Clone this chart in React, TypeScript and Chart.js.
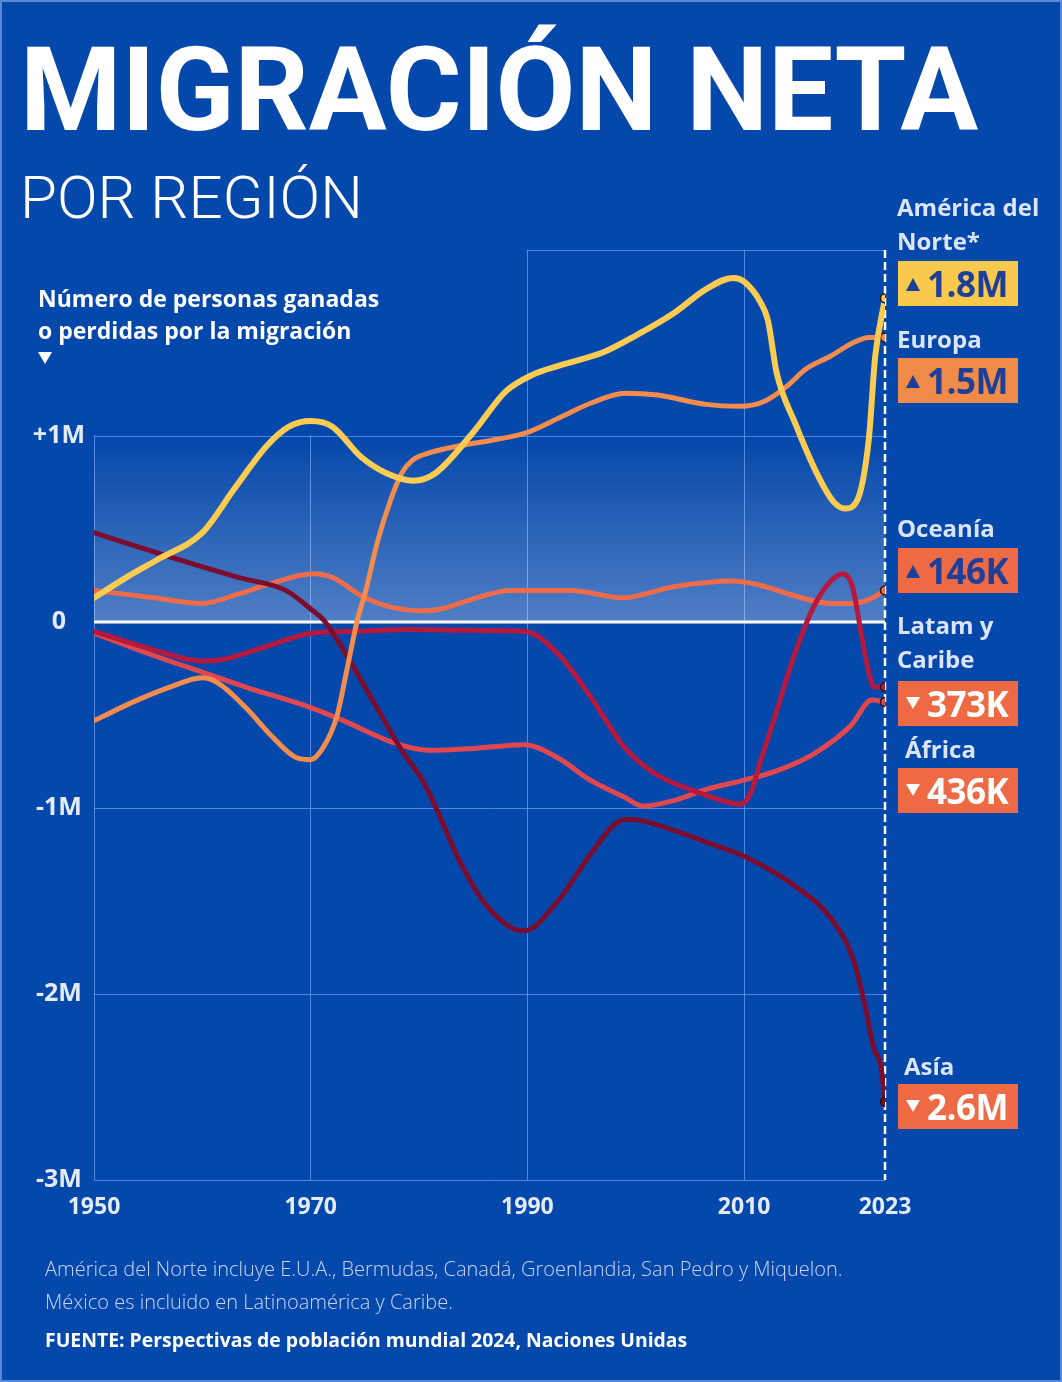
import React, { useEffect, useRef } from 'react';
import { Chart, registerables } from 'chart.js';

Chart.register(...registerables);

const BG = '#0548AB';

// ---- Data (net migration, millions of people) ----
const NA_YEARS = [1950, 1953, 1956, 1960, 1963, 1966, 1968, 1970, 1972, 1974.6, 1977, 1979.5, 1981.5, 1985, 1988, 1990.5, 1993, 1997, 2000, 2003.5, 2006.5, 2009, 2010, 2011.5, 2012.2, 2013, 2014.7, 2016.7, 2018.2, 2019.3, 2020.4, 2021.5, 2022.1, 2023];
const NA_VALUES = [0.13, 0.24, 0.34, 0.48, 0.72, 0.95, 1.05, 1.08, 1.05, 0.89, 0.8, 0.76, 0.8, 1.02, 1.24, 1.33, 1.38, 1.45, 1.54, 1.66, 1.79, 1.85, 1.83, 1.72, 1.62, 1.34, 1.07, 0.8, 0.65, 0.61, 0.65, 0.98, 1.43, 1.74];

const EU_YEARS = [1950, 1954, 1957, 1960, 1961.5, 1964, 1966.5, 1968.7, 1970, 1971.2, 1972.4, 1973.4, 1974.3, 1975, 1976.2, 1977.4, 1978.4, 1979.4, 1981, 1984, 1987, 1990, 1993, 1996, 1999, 2002, 2006.5, 2009.6, 2012, 2014, 2015.7, 2018, 2020, 2021.5, 2023];
const EU_VALUES = [-0.53, -0.42, -0.35, -0.3, -0.33, -0.46, -0.62, -0.73, -0.74, -0.67, -0.51, -0.24, 0.01, 0.15, 0.44, 0.66, 0.8, 0.87, 0.91, 0.95, 0.98, 1.02, 1.1, 1.18, 1.23, 1.22, 1.17, 1.16, 1.19, 1.27, 1.36, 1.43, 1.5, 1.53, 1.53];

const OC_YEARS = [1950, 1955.5, 1960, 1963.3, 1966.5, 1970.2, 1972, 1975, 1977.4, 1980.5, 1982, 1985.3, 1988.4, 1990.5, 1994, 1998.8, 2003.5, 2009, 2011.3, 2014.7, 2018, 2020, 2021.5, 2023];
const OC_VALUES = [0.17, 0.13, 0.1, 0.15, 0.21, 0.26, 0.24, 0.13, 0.08, 0.06, 0.07, 0.13, 0.17, 0.17, 0.17, 0.13, 0.19, 0.22, 0.2, 0.14, 0.1, 0.1, 0.12, 0.17];

const LA_YEARS = [1950, 1955.5, 1960, 1962, 1966.5, 1970, 1974.3, 1979, 1985.3, 1989.7, 1992.8, 1995.8, 1998.9, 2001.9, 2005, 2008, 2009.6, 2010.6, 2011.5, 2013, 2014.5, 2016.4, 2018, 2019.1, 2020, 2020.8, 2021.5, 2022, 2023];
const LA_VALUES = [-0.05, -0.15, -0.21, -0.2, -0.12, -0.06, -0.05, -0.04, -0.045, -0.05, -0.17, -0.4, -0.67, -0.82, -0.9, -0.96, -0.98, -0.92, -0.75, -0.48, -0.2, 0.08, 0.22, 0.26, 0.19, -0.06, -0.27, -0.35, -0.35];

const AF_YEARS = [1950, 1955.5, 1960, 1964, 1970, 1973, 1977.7, 1980.9, 1985, 1989.7, 1992.8, 1995.8, 1998.9, 2000.7, 2003.5, 2006.5, 2010, 2013, 2016.4, 2019.8, 2021.8, 2023];
const AF_VALUES = [-0.06, -0.18, -0.27, -0.35, -0.46, -0.53, -0.65, -0.69, -0.68, -0.66, -0.73, -0.85, -0.94, -0.99, -0.96, -0.9, -0.85, -0.8, -0.71, -0.56, -0.42, -0.43];

const AS_YEARS = [1950, 1957, 1963.3, 1967.7, 1970, 1971.2, 1972.7, 1975.9, 1978.4, 1980.3, 1981.5, 1983.7, 1985.9, 1988.4, 1989.7, 1992.8, 1995.8, 1998.2, 1999.5, 2003.5, 2006.8, 2010, 2014.7, 2018.1, 2020.1, 2021.1, 2022, 2022.6, 2023];
const AS_VALUES = [0.48, 0.35, 0.24, 0.17, 0.07, 0.01, -0.12, -0.44, -0.69, -0.85, -0.99, -1.28, -1.5, -1.64, -1.66, -1.5, -1.25, -1.08, -1.06, -1.12, -1.19, -1.26, -1.42, -1.6, -1.82, -2.05, -2.3, -2.38, -2.58];

const X_TICKS = [1950, 1970, 1990, 2010, 2023];
const Y_TICKS = [-3, -2, -1, 0, 1, 2];
const Y_TICK_LABELS = ['-3M', '-2M', '-1M', '0', '+1M', ''];

const LABEL_NAMES = [['América del', 'Norte*'], ['Europa'], ['Oceanía'], ['Latam y', 'Caribe'], ['África'], ['Asía']];
const LABEL_VALUES = ['1.8M', '1.5M', '146K', '373K', '436K', '2.6M'];
const LABEL_UP = [true, true, true, false, false, false];

const COLORS = {
  na: '#FBCB52',
  eu: '#F38C4C',
  oc: '#EE6B4B',
  la: '#B7183D',
  af: '#E1474F',
  as: '#7B0E2E',
};
const BOX_COLORS = ['#F8C94C', '#EF8A48', '#EE6A45', '#EE6A45', '#EE6A45', '#EE6A45'];

const pts = (xs: number[], ys: number[]) => xs.map((x, i) => ({ x, y: ys[i] }));

function makeDataset(label: string, xs: number[], ys: number[], color: string, width: number) {
  const n = xs.length;
  return {
    label,
    data: pts(xs, ys),
    borderColor: color,
    backgroundColor: color,
    borderWidth: width,
    cubicInterpolationMode: 'monotone' as const,
    borderCapStyle: 'round' as const,
    borderJoinStyle: 'round' as const,
    pointRadius: (ctx: any) => (ctx.dataIndex === n - 1 ? 4.5 : 0),
    pointHoverRadius: 0,
    pointBackgroundColor: color,
    pointBorderColor: '#2a1208',
    pointBorderWidth: 1.5,
    fill: false,
  };
}

const decorPlugin = {
  id: 'decor',
  beforeDatasetsDraw(chart: any) {
    const { ctx, chartArea: a, scales } = chart;
    const x = scales.x;
    const y = scales.y;
    const x1990 = x.getPixelForValue(1990);
    const xEnd = x.getPixelForValue(2023);
    const y1 = y.getPixelForValue(1);
    const y0 = y.getPixelForValue(0);
    ctx.save();
    // hide the grid in the top-left corner (behind the axis title)
    ctx.fillStyle = BG;
    ctx.fillRect(a.left - 3, a.top - 3, x1990 - 1 - (a.left - 3), y1 - 1 - (a.top - 3));
    // light gradient band between 0 and +1M
    const g = ctx.createLinearGradient(0, y1, 0, y0);
    g.addColorStop(0, 'rgba(255,255,255,0)');
    g.addColorStop(1, 'rgba(255,255,255,0.30)');
    ctx.fillStyle = g;
    ctx.fillRect(a.left, y1, xEnd - a.left, y0 - y1);
    // zero line
    ctx.strokeStyle = '#ffffff';
    ctx.lineWidth = 3;
    ctx.beginPath();
    ctx.moveTo(a.left, y0);
    ctx.lineTo(xEnd, y0);
    ctx.stroke();
    // dashed 2023 line
    ctx.setLineDash([8, 4]);
    ctx.lineWidth = 2.5;
    ctx.beginPath();
    ctx.moveTo(xEnd, a.top);
    ctx.lineTo(xEnd, a.bottom);
    ctx.stroke();
    ctx.restore();
  },
};

const GRID = 'rgba(105,150,235,0.8)';

function TriUp({ color }: { color: string }) {
  return <div style={{ width: 0, height: 0, borderLeft: '7.5px solid transparent', borderRight: '7.5px solid transparent', borderBottom: `13px solid ${color}` }} />;
}
function TriDown({ color }: { color: string }) {
  return <div style={{ width: 0, height: 0, borderLeft: '7px solid transparent', borderRight: '7px solid transparent', borderTop: `12px solid ${color}` }} />;
}

const NAME_TOPS = [190, 322, 511, 608, 732, 1049];
const NAME_LEFTS = [897, 897, 897, 897, 905, 904];
const BOX_TOPS = [261, 358, 548, 681, 768, 1084];

export default function App() {
  const ref = useRef<HTMLCanvasElement>(null);

  useEffect(() => {
    document.body.style.margin = '0';
    const chart = new Chart(ref.current as HTMLCanvasElement, {
      type: 'line',
      data: {
        datasets: [
          makeDataset('América del Norte', NA_YEARS, NA_VALUES, COLORS.na, 6),
          makeDataset('Europa', EU_YEARS, EU_VALUES, COLORS.eu, 5),
          makeDataset('Asia', AS_YEARS, AS_VALUES, COLORS.as, 5),
          makeDataset('Latam y Caribe', LA_YEARS, LA_VALUES, COLORS.la, 5),
          makeDataset('África', AF_YEARS, AF_VALUES, COLORS.af, 5),
          makeDataset('Oceanía', OC_YEARS, OC_VALUES, COLORS.oc, 5),
        ] as any,
      },
      options: {
        responsive: false,
        devicePixelRatio: 1,
        animation: false,
        layout: { padding: { left: 0, top: 250, right: 177, bottom: 142 } },
        plugins: { legend: { display: false }, tooltip: { enabled: false } },
        events: [],
        scales: {
          x: {
            type: 'linear',
            min: 1950,
            max: 2023,
            afterBuildTicks: (s: any) => {
              s.ticks = X_TICKS.map((v) => ({ value: v }));
            },
            afterFit: (s: any) => {
              s.height = 60;
            },
            border: { display: false },
            grid: {
              drawTicks: false,
              color: (c: any) => (c.tick && c.tick.value === 2023 ? 'rgba(0,0,0,0)' : GRID),
              lineWidth: 1,
            },
            ticks: {
              padding: 14,
              color: '#E4EBF8',
              font: { family: '"Open Sans", sans-serif', size: 23, weight: 'bold' },
              callback: (v: any) => String(v),
              maxRotation: 0,
              autoSkip: false,
            },
          },
          y: {
            type: 'linear',
            min: -3,
            max: 2,
            afterBuildTicks: (s: any) => {
              s.ticks = Y_TICKS.map((v) => ({ value: v }));
            },
            afterFit: (s: any) => {
              s.width = 94;
            },
            border: { display: false },
            grid: {
              drawTicks: false,
              color: (c: any) => (c.tick && c.tick.value === 0 ? 'rgba(0,0,0,0)' : GRID),
              lineWidth: 1,
            },
            ticks: {
              padding: 9,
              crossAlign: 'center',
              color: '#E4EBF8',
              font: { family: '"Open Sans", sans-serif', size: 25, weight: 'bold' },
              callback: (v: any) => Y_TICK_LABELS[Y_TICKS.indexOf(Number(v))] ?? '',
              autoSkip: false,
            },
          },
        },
      } as any,
      plugins: [decorPlugin],
    });
    return () => chart.destroy();
  }, []);

  const labelStyle: React.CSSProperties = {
    position: 'absolute',
    color: '#DCE5F7',
    fontFamily: '"Open Sans", sans-serif',
    fontWeight: 700,
    fontSize: 24,
    lineHeight: '34px',
    whiteSpace: 'nowrap',
  };

  return (
    <div
      style={{
        position: 'absolute',
        left: 0,
        top: 0,
        width: 1062,
        height: 1382,
        background: BG,
        overflow: 'hidden',
        boxSizing: 'border-box',
        border: '2px solid #5A88D4',
        fontFamily: '"Open Sans", sans-serif',
      }}
    >
      <canvas ref={ref} width={1062} height={1382} style={{ position: 'absolute', left: -2, top: -2 }} />

      <div
        style={{
          position: 'absolute',
          left: 18,
          top: 30,
          color: '#ffffff',
          fontFamily: 'Roboto, sans-serif',
          fontWeight: 700,
          fontSize: 116,
          lineHeight: '116px',
          whiteSpace: 'nowrap',
        }}
      >
        MIGRACIÓN NETA
      </div>
      <div
        style={{
          position: 'absolute',
          left: 18,
          top: 166,
          color: '#ffffff',
          fontFamily: 'Roboto, sans-serif',
          fontWeight: 300,
          fontSize: 60,
          lineHeight: '60px',
          whiteSpace: 'nowrap',
        }}
      >
        POR REGIÓN
      </div>

      <div
        style={{
          position: 'absolute',
          left: 36,
          top: 280,
          color: '#ffffff',
          fontFamily: '"Open Sans", sans-serif',
          fontWeight: 700,
          fontSize: 23,
          lineHeight: '32px',
          whiteSpace: 'nowrap',
        }}
      >
        <div>Número de personas ganadas</div>
        <div>o perdidas por la migración</div>
      </div>
      <div style={{ position: 'absolute', left: 36, top: 350 }}>
        <TriDown color="#ffffff" />
      </div>

      {LABEL_NAMES.map((lines, i) => (
        <React.Fragment key={i}>
          <div style={{ ...labelStyle, left: NAME_LEFTS[i] - 2, top: NAME_TOPS[i] - 2 }}>
            {lines.map((l, j) => (
              <div key={j}>{l}</div>
            ))}
          </div>
          <div
            style={{
              position: 'absolute',
              left: 896,
              top: BOX_TOPS[i] - 2,
              width: 120,
              height: 45,
              background: BOX_COLORS[i],
              display: 'flex',
              alignItems: 'center',
            }}
          >
            <div style={{ width: 29, display: 'flex', justifyContent: 'center', marginTop: LABEL_UP[i] ? 2 : -2 }}>
              {LABEL_UP[i] ? <TriUp color="#1D3F99" /> : <TriDown color="#ffffff" />}
            </div>
            <div
              style={{
                color: LABEL_UP[i] ? '#1D3F99' : '#ffffff',
                fontFamily: '"Open Sans", sans-serif',
                fontWeight: 700,
                fontSize: 35,
                lineHeight: '45px',
                letterSpacing: -0.5,
              }}
            >
              {LABEL_VALUES[i]}
            </div>
          </div>
        </React.Fragment>
      ))}

      <div
        style={{
          position: 'absolute',
          left: 43,
          top: 1250,
          color: '#C9D5F0',
          fontFamily: '"Open Sans", sans-serif',
          fontWeight: 300,
          fontSize: 20,
          lineHeight: '33px',
          whiteSpace: 'nowrap',
        }}
      >
        <div>América del Norte incluye E.U.A., Bermudas, Canadá, Groenlandia, San Pedro y Miquelon.</div>
        <div>México es incluido en Latinoamérica y Caribe.</div>
      </div>
      <div
        style={{
          position: 'absolute',
          left: 43,
          top: 1324,
          color: '#ffffff',
          fontFamily: '"Open Sans", sans-serif',
          fontWeight: 700,
          fontSize: 19.4,
          lineHeight: '28px',
          whiteSpace: 'nowrap',
        }}
      >
        FUENTE: Perspectivas de población mundial 2024, Naciones Unidas
      </div>
    </div>
  );
}
